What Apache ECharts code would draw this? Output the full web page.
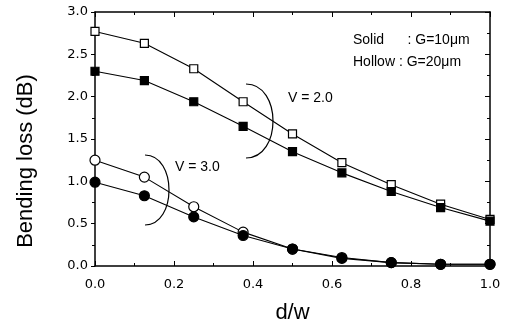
<!DOCTYPE html>
<html>
<head>
<meta charset="utf-8">
<script src="https://cdn.jsdelivr.net/npm/echarts@6/dist/echarts.min.js"></script>
<style>
  html, body { margin: 0; padding: 0; background: #fff; }
  #chart { width: 507px; height: 325px; }
</style>
</head>
<body>
<div id="chart"></div>
<script>
// d/w positions
const dw = [0, 0.125, 0.25, 0.375, 0.5, 0.625, 0.75, 0.875, 1.0]

// V = 2.0
const v2Hollow = [2.77, 2.63, 2.33, 1.94, 1.56, 1.22, 0.96, 0.73, 0.55]
const v2Solid = [2.30, 2.19, 1.94, 1.65, 1.35, 1.10, 0.88, 0.69, 0.53]

// V = 3.0
const v3Hollow = [1.25, 1.05, 0.70, 0.40, 0.20, 0.10, 0.04, 0.02, 0.02]
const v3Solid = [0.99, 0.83, 0.58, 0.36, 0.20, 0.09, 0.04, 0.02, 0.02]

const yTicks = ['0.0', '0.5', '1.0', '1.5', '2.0', '2.5', '3.0']
const xTicks = ['0.0', '0.2', '0.4', '0.6', '0.8', '1.0']

const FONT = 'Liberation Sans, Arial, sans-serif'
const TICK_FONT = 'DejaVu Sans, sans-serif'

const pair = (arr) => arr.map((v, i) => [dw[i], v])

const chart = echarts.init(document.getElementById('chart'))

const mkSeries = (data, symbol, filled) => ({
  type: 'line',
  data: pair(data),
  symbol: symbol,
  symbolSize: symbol === 'rect' ? 8 : 10,
  showSymbol: true,
  lineStyle: { color: '#000', width: 1.1 },
  itemStyle: {
    color: filled ? '#000' : '#fff',
    borderColor: '#000',
    borderWidth: 1.2
  },
  emphasis: { disabled: true },
  animation: false
})

// half ellipse bracket opening to the left
const bracket = (cx, cy, rx, ry) => ({
  type: 'bezierCurve',
  shape: {
    x1: cx, y1: cy - ry,
    x2: cx, y2: cy + ry,
    cpx1: cx + rx * 4 / 3, cpy1: cy - ry,
    cpx2: cx + rx * 4 / 3, cpy2: cy + ry
  },
  style: { stroke: '#000', lineWidth: 1.2, fill: null }
})

const note = (text, x, y) => ({
  type: 'text', x: x, y: y,
  style: { text: text, font: '14px ' + FONT, fill: '#000', verticalAlign: 'middle' }
})

const axisCommon = {
  type: 'value',
  axisLine: { show: true, onZero: false, lineStyle: { color: '#000', width: 1.5 } },
  splitLine: { show: false },
  minorTick: { show: true, splitNumber: 2, length: 3, lineStyle: { color: '#000' } }
}

chart.setOption({
  animation: false,
  grid: { left: 95, right: 17, top: 12, bottom: 59, outerBoundsMode: 'none', containLabel: false },
  xAxis: [
    {
      ...axisCommon,
      min: 0, max: 1, interval: 0.2,
      name: 'd/w',
      nameLocation: 'middle',
      nameGap: 36,
      nameTextStyle: { fontFamily: FONT, fontSize: 22, color: '#000' },
      axisTick: { inside: true, length: 5, lineStyle: { color: '#000' } },
      axisLabel: {
        fontFamily: TICK_FONT, fontSize: 13, color: '#000', margin: 12,
        formatter: (v) => xTicks[Math.round(v / 0.2)]
      }
    },
    {
      ...axisCommon,
      position: 'top',
      min: 0, max: 1, interval: 0.2,
      axisTick: { inside: true, length: 5, lineStyle: { color: '#000' } },
      axisLabel: { show: false }
    }
  ],
  yAxis: [
    {
      ...axisCommon,
      min: 0, max: 3, interval: 0.5,
      axisTick: { inside: false, length: 4, lineStyle: { color: '#000' } },
      axisLabel: {
        fontFamily: TICK_FONT, fontSize: 13, color: '#000', margin: 7,
        formatter: (v) => yTicks[Math.round(v / 0.5)]
      }
    },
    {
      ...axisCommon,
      position: 'right',
      min: 0, max: 3, interval: 0.5,
      axisTick: { inside: true, length: 5, lineStyle: { color: '#000' } },
      axisLabel: { show: false }
    }
  ],
  series: [
    mkSeries(v2Hollow, 'rect', false),
    mkSeries(v2Solid, 'rect', true),
    mkSeries(v3Hollow, 'circle', false),
    mkSeries(v3Solid, 'circle', true)
  ],
  graphic: [
    bracket(246, 121, 27, 37),
    bracket(145, 190, 24, 35),
    note('V = 2.0', 288, 98),
    note('V = 3.0', 175, 167),
    note('Solid      : G=10\u03bcm', 353, 40),
    note('Hollow : G=20\u03bcm', 353, 62),
    {
      type: 'text', x: 26, y: 161, rotation: Math.PI / 2,
      style: {
        text: 'Bending loss (dB)', font: '22px ' + FONT, fill: '#000',
        align: 'center', verticalAlign: 'middle'
      }
    }
  ]
})
</script>
</body>
</html>
